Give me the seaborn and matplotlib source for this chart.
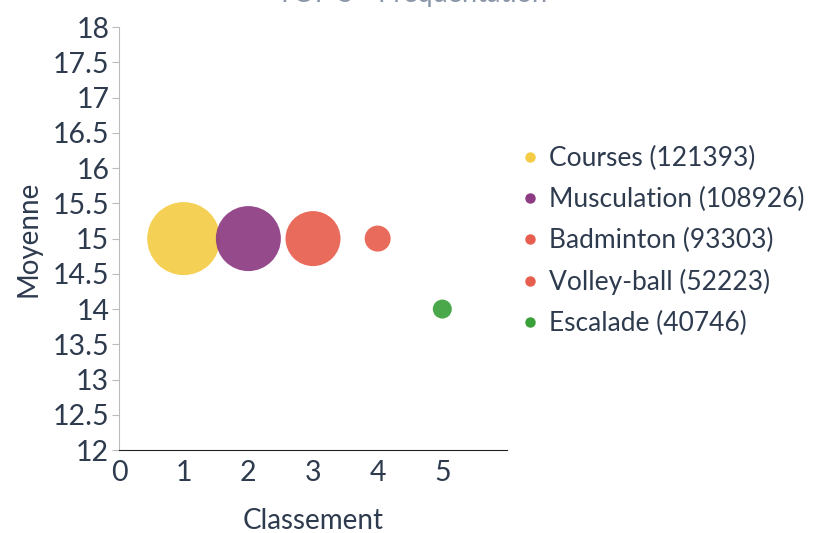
import seaborn as sns
import matplotlib.pyplot as plt
import pandas as pd
from matplotlib.lines import Line2D

# donnees
sports = ["Courses", "Musculation", "Badminton", "Volley-ball", "Escalade"]
effectifs = [121393, 108926, 93303, 52223, 40746]
classement = [1, 2, 3, 4, 5]
moyenne = [15, 15, 15, 15, 14]
taille_bulle = [73, 65, 55, 26, 19]  # diametre relatif des bulles
couleurs = ["#F4CC45", "#8C3A82", "#E85E4E", "#E85E4E", "#3AA03A"]

df = pd.DataFrame({"sport": sports, "effectif": effectifs, "classement": classement,
                   "moyenne": moyenne, "taille": taille_bulle})
df["label"] = [f"{s} ({e})" for s, e in zip(df.sport, df.effectif)]

sns.set_style("white")
plt.rcParams['font.family'] = ['Lato', 'DejaVu Sans']
texte = "#2E3B4E"

fig = plt.figure(figsize=(8.21, 5.33), dpi=100)
ax = fig.add_axes([0.145, 0.1557, 0.4725, 0.7933])

aires = {lab: (t * 0.72) ** 2 for lab, t in zip(df.label, df.taille)}
sns.scatterplot(data=df, x="classement", y="moyenne", hue="label", palette=couleurs,
                size="label", sizes=aires, alpha=0.92, linewidth=0, legend=False, ax=ax)

ax.set_xlim(0, 6)
ax.set_ylim(12, 18)
ax.set_xticks([0, 1, 2, 3, 4, 5])
ax.set_yticks([12 + 0.5 * i for i in range(13)])
ax.set_yticklabels([f"{v:g}" for v in ax.get_yticks()])
ax.tick_params(axis='y', length=5, color="#bbbbbb", labelsize=20.5, labelcolor=texte, pad=2, left=True)
ax.tick_params(axis='x', length=0, labelsize=20.5, labelcolor=texte, pad=7)
ax.set_xlabel("Classement", fontsize=20, color=texte, labelpad=16)
ax.set_ylabel("Moyenne", fontsize=20, color=texte, labelpad=8)

sns.despine(ax=ax)
ax.spines['left'].set_color("#bbbbbb")
ax.spines['bottom'].set_color("#222222")

handles = [Line2D([], [], marker='o', linestyle='', markersize=6.5, color=c, label=l)
           for c, l in zip(couleurs, df.label)]
fig.legend(handles=handles, loc='upper left', bbox_to_anchor=(0.601, 0.77), frameon=False,
           fontsize=19, labelcolor=texte, handletextpad=0.2, labelspacing=0.6, handlelength=1.0)

fig.text(0.502, 0.996, "TOP 5 - Fréquentation", ha='center', va='baseline', fontsize=19.5, color="#8a96a8")

fig.savefig("out.png", dpi=100)
